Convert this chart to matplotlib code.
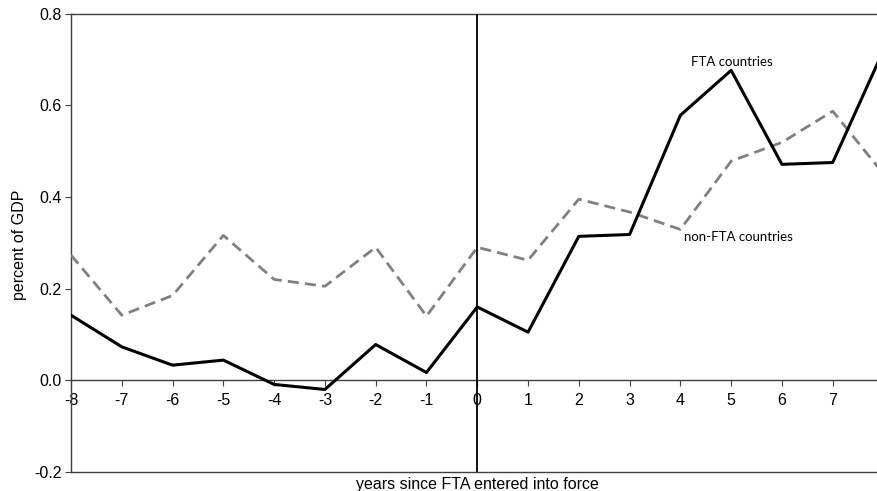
import matplotlib
matplotlib.use("Agg")
import matplotlib.pyplot as plt

# years relative to FTA entry into force
years = [-8, -7, -6, -5, -4, -3, -2, -1, 0, 1, 2, 3, 4, 5, 6, 7, 8]
fta = [0.142, 0.073, 0.033, 0.044, -0.009, -0.020, 0.078, 0.017, 0.160,
       0.105, 0.314, 0.318, 0.578, 0.676, 0.471, 0.475, 0.72]
non_fta = [0.273, 0.142, 0.185, 0.316, 0.220, 0.205, 0.290, 0.140, 0.290,
           0.262, 0.395, 0.367, 0.329, 0.478, 0.519, 0.587, 0.45]
yticks = [-0.2, 0.0, 0.2, 0.4, 0.6, 0.8]

plt.rcParams['font.family'] = ['Liberation Sans', 'DejaVu Sans']

fig = plt.figure(figsize=(8.77, 4.91), dpi=100)
# axes runs a bit past the right edge, as in the cropped original
ax = fig.add_axes([71/877, 1-472/491, (883.5-71)/877, (472-13.5)/491])

ax.plot(years, non_fta, color='#808080', lw=2.0, dashes=(4, 2.2), zorder=3)
ax.plot(years, fta, color='black', lw=2.2, zorder=4)
ax.axvline(0, color='black', lw=1.3, zorder=5)

ax.set_xlim(-8, 8)
ax.set_ylim(-0.2, 0.8)
ax.set_xticks(years)
# last label falls off the cropped edge in the original
ax.set_xticklabels([str(y) if y < 8 else '' for y in years])
ax.set_yticks(yticks)
ax.set_yticklabels(['%.1f' % v for v in yticks])

ax.spines['bottom'].set_position(('data', 0))
ax.spines['right'].set_visible(False)
for s in ['bottom', 'left', 'top']:
    ax.spines[s].set_color('#404040')
    ax.spines[s].set_linewidth(1.0)
# bottom border of the frame
ax.plot([0, 1], [0, 0], transform=ax.transAxes, color='#404040', lw=1.0,
        clip_on=False)

ax.tick_params(axis='x', direction='out', length=4, color='#404040',
               labelsize=11.5, pad=5)
ax.tick_params(axis='y', direction='out', length=4, color='#404040',
               labelsize=11.5, pad=3)

ax.text(4.2, 0.695, 'FTA countries', fontsize=9.5, family=['Lato'],
        va='center', ha='left')
ax.text(4.08, 0.312, 'non-FTA countries', fontsize=9.5, family=['Lato'],
        va='center', ha='left')

fig.text(477/877, 1-485/491, 'years since FTA entered into force',
         ha='center', va='center', fontsize=11.5)
fig.text(20/877, 1-245/491, 'percent of GDP', rotation=90,
         ha='center', va='center', fontsize=11.5)

fig.savefig('out.png', dpi=100)
